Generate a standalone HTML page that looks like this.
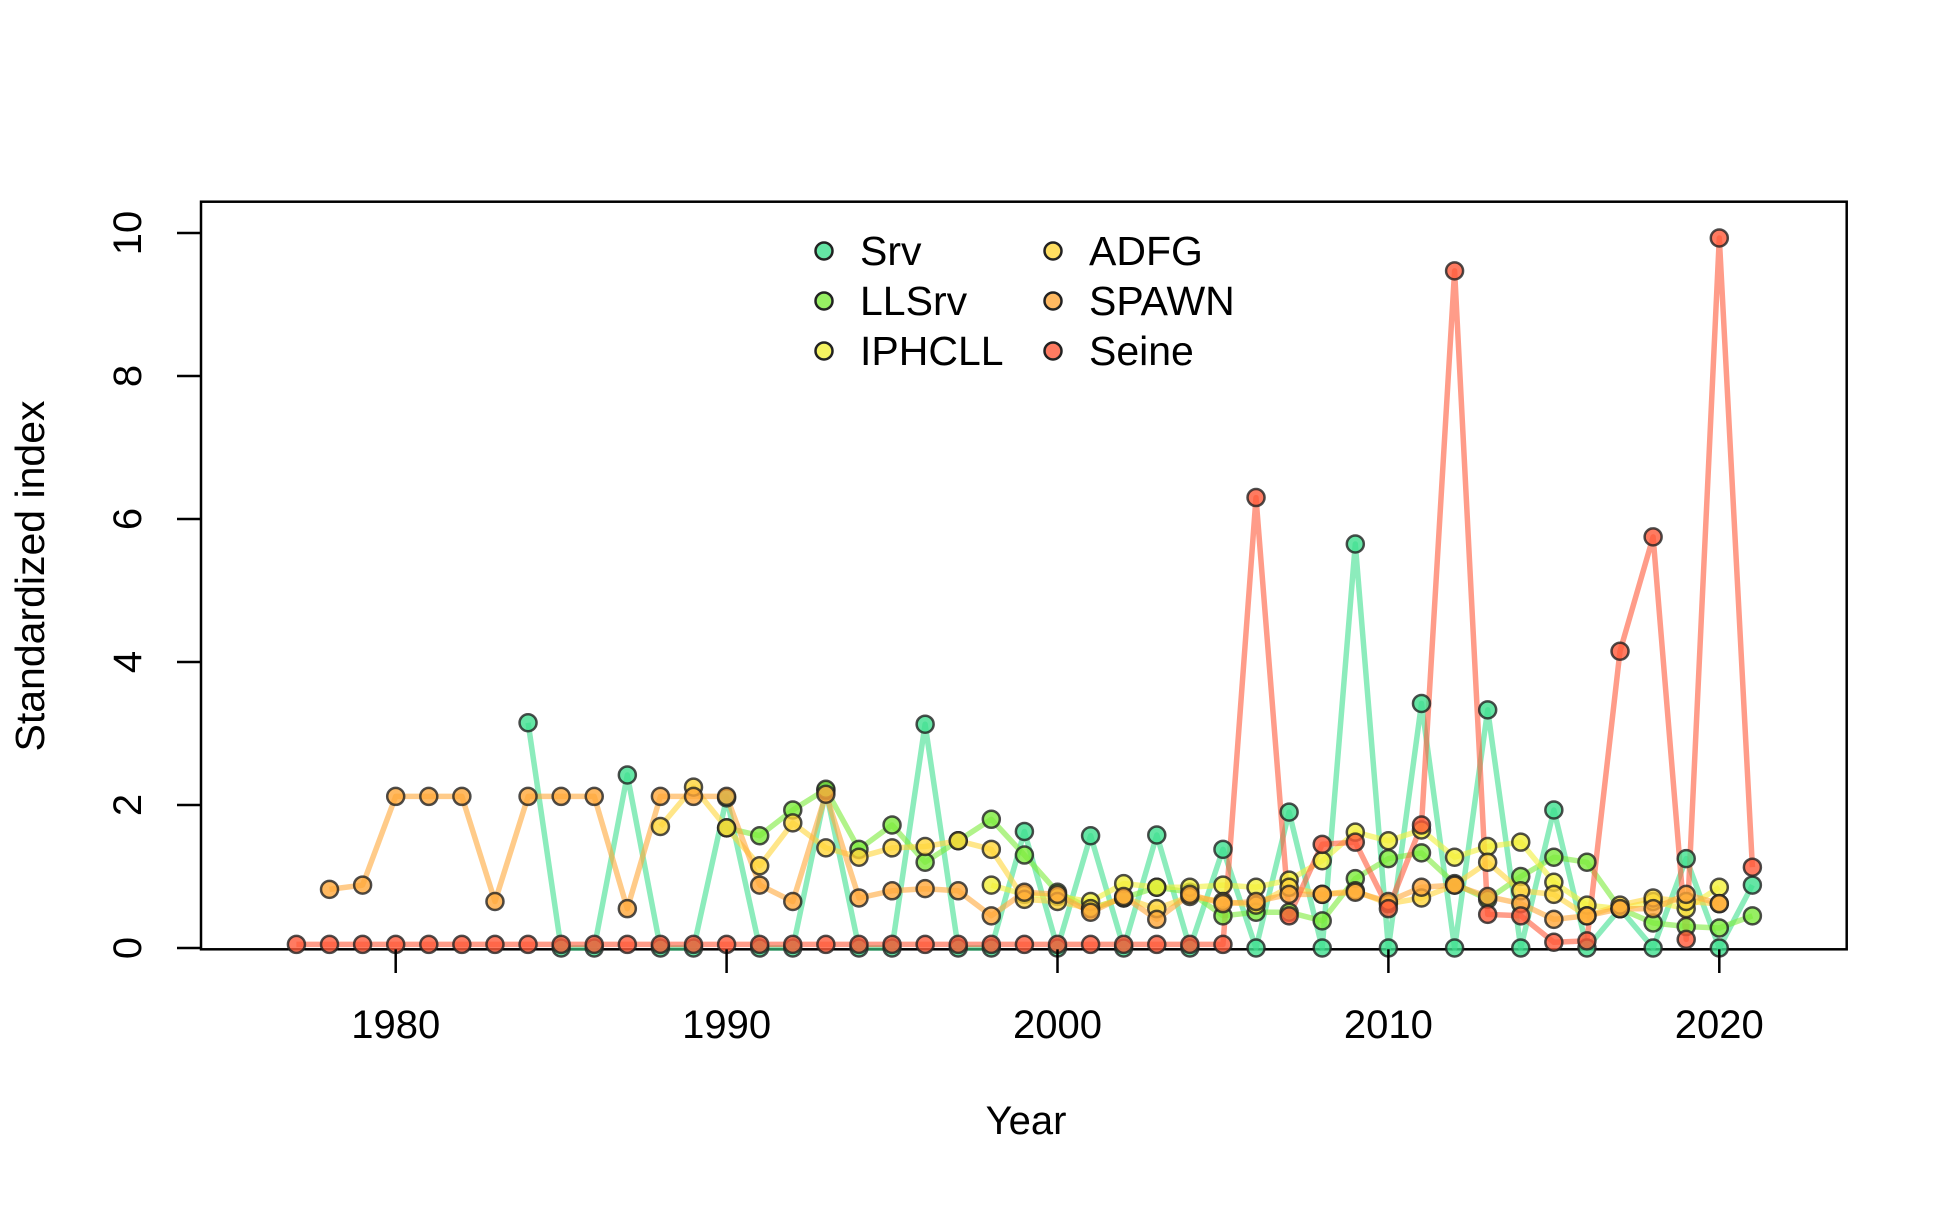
<!DOCTYPE html>
<html><head><meta charset="utf-8"><style>
html,body{margin:0;padding:0;background:#fff;}
svg text{font-family:"Liberation Sans",Arial,sans-serif;fill:#000;}
</style></head><body>
<svg id="chart" width="1950" height="1200" viewBox="0 0 1950 1200" xmlns="http://www.w3.org/2000/svg">
<rect x="201" y="201.7" width="1645.7" height="747.6" fill="none" stroke="#000" stroke-width="2.5"/>
<g id="lines"></g><g id="points"></g><g id="axes"></g><g id="legend"></g>
<text x="1026" y="1134" font-size="40" text-anchor="middle">Year</text>
<text x="0" y="0" font-size="41" text-anchor="middle" transform="translate(44,576) rotate(-90)">Standardized index</text>
</svg>
<script>
const years = [];
for (let y = 1977; y <= 2021; y++) years.push(y);
const seriesNames = ["Srv","LLSrv","IPHCLL","ADFG","SPAWN","Seine"];
const seriesColors = ["#3FE08F","#7DEB3C","#F2F03A","#FFD63A","#FFA83A","#FF5A3A"];
const srvStart = 1984;
const srvValues = [3.15,0,0,2.42,0,0,2.1,0,0,2.2,0,0,3.13,0,0,1.63,0,1.57,0,1.58,0,1.38,0,1.9,0,5.65,0,3.42,0,3.33,0,1.93,0,0.55,0,1.25,0,0.88];
const llsrvStart = 1990;
const llsrvValues = [1.68,1.57,1.93,2.22,1.38,1.72,1.2,1.5,1.8,1.3,0.78,0.55,0.7,0.85,0.78,0.45,0.5,0.5,0.38,0.97,1.25,1.33,0.9,0.68,1.0,1.27,1.2,0.55,0.35,0.3,0.28,0.45];
const iphcStart = 1998;
const iphcValues = [0.88,0.75,0.72,0.65,0.9,0.85,0.85,0.88,0.85,0.95,1.22,1.62,1.5,1.65,1.27,1.42,1.48,0.92,0.6,0.55,0.65,0.55,0.85];
const adfgStart = 1988;
const adfgValues = [1.7,2.25,1.68,1.15,1.75,1.4,1.27,1.4,1.42,1.5,1.38,0.68,0.65,0.55,0.7,0.55,0.72,0.65,0.6,0.85,0.75,0.8,0.62,0.7,0.88,1.2,0.8,0.75,0.45,0.6,0.7,0.65,0.62];
const spawnStart = 1978;
const spawnValues = [0.82,0.88,2.12,2.12,2.12,0.65,2.12,2.12,2.12,0.55,2.12,2.12,2.12,0.88,0.65,2.15,0.7,0.8,0.83,0.8,0.45,0.78,0.75,0.5,0.72,0.4,0.75,0.62,0.65,0.75,0.75,0.78,0.65,0.85,0.88,0.72,0.62,0.4,0.45,0.55,0.55,0.75,0.62];
const seineStart = 1977;
const seineValues = [0.05,0.05,0.05,0.05,0.05,0.05,0.05,0.05,0.05,0.05,0.05,0.05,0.05,0.05,0.05,0.05,0.05,0.05,0.05,0.05,0.05,0.05,0.05,0.05,0.05,0.05,0.05,0.05,0.05,6.3,0.45,1.45,1.48,0.55,1.72,9.47,0.47,0.45,0.08,0.1,4.15,5.75,0.12,9.93,1.13];
const xTicks = [1980,1990,2000,2010,2020];
const yTicks = [0,2,4,6,8,10];

const NS = "http://www.w3.org/2000/svg";
function xs(v){ return 395.7 + (v-1980)*33.09; }
function ys(v){ return 948 - v*71.5; }
function mk(tag, parent){ const e=document.createElementNS(NS,tag); parent.appendChild(e); return e; }

const starts=[srvStart,llsrvStart,iphcStart,adfgStart,spawnStart,seineStart];
const vals=[srvValues,llsrvValues,iphcValues,adfgValues,spawnValues,seineValues];
const gl=document.getElementById('lines'), gp=document.getElementById('points');
for(let s=0;s<6;s++){
  const pts=vals[s].map((v,i)=>xs(starts[s]+i).toFixed(1)+","+ys(v).toFixed(1)).join(" ");
  const pl=mk('polyline',gl);
  
  
  pl.setAttribute('points',pts); pl.setAttribute('fill','none');
  pl.setAttribute('stroke',seriesColors[s]); pl.setAttribute('stroke-opacity','0.6');
  pl.setAttribute('stroke-width','5.5'); pl.setAttribute('stroke-linejoin','round');
}
for(let s=0;s<6;s++){
  vals[s].forEach((v,i)=>{
    const c=mk('circle',gp);
    
    
    c.setAttribute('cx',xs(starts[s]+i)); c.setAttribute('cy',ys(v)); c.setAttribute('r','8.5');
    c.setAttribute('fill',seriesColors[s]); c.setAttribute('fill-opacity','0.8');
    c.setAttribute('stroke','#222'); c.setAttribute('stroke-opacity','0.8'); c.setAttribute('stroke-width','2.5');
  });
}
const ga=document.getElementById('axes');
xTicks.forEach(t=>{
  const l=mk('line',ga);
  
  
  l.setAttribute('x1',xs(t)); l.setAttribute('x2',xs(t)); l.setAttribute('y1',949.3); l.setAttribute('y2',973);
  l.setAttribute('stroke','#000'); l.setAttribute('stroke-width','2.5');
  const tx=mk('text',ga);
  
  
  tx.setAttribute('x',xs(t)); tx.setAttribute('y',1038); tx.setAttribute('font-size','40'); tx.setAttribute('text-anchor','middle');
  tx.textContent=t;
});
yTicks.forEach(t=>{
  const l=mk('line',ga);
  
  
  l.setAttribute('x1',177); l.setAttribute('x2',201); l.setAttribute('y1',ys(t)); l.setAttribute('y2',ys(t));
  l.setAttribute('stroke','#000'); l.setAttribute('stroke-width','2.5');
  const tx=mk('text',ga);
  
  
  tx.setAttribute('font-size','40'); tx.setAttribute('text-anchor','middle');
  tx.setAttribute('transform','translate(141,'+ys(t)+') rotate(-90)');
  tx.textContent=t;
});
const lg=document.getElementById('legend');


for(let s=0;s<6;s++){
  const col=Math.floor(s/3), row=s%3;
  const cx=col?1053:824, cy=251+row*50;
  const c=mk('circle',lg);
  
  
  c.setAttribute('cx',cx); c.setAttribute('cy',cy); c.setAttribute('r','8.5');
  c.setAttribute('fill',seriesColors[s]); c.setAttribute('fill-opacity','0.8');
  c.setAttribute('stroke','#222'); c.setAttribute('stroke-width','2.5');
  const tx=mk('text',lg);
  
  
  tx.setAttribute('x',cx+36); tx.setAttribute('y',cy+14); tx.setAttribute('font-size','41');
  tx.textContent=seriesNames[s];
}
</script>
</body></html>
